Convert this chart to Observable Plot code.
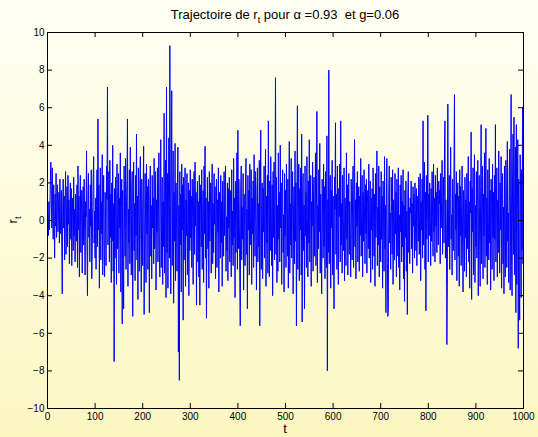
<!DOCTYPE html>
<html>
<head>
<meta charset="utf-8">
<script src="https://cdn.jsdelivr.net/npm/d3@7"></script>
<script src="https://cdn.jsdelivr.net/npm/@observablehq/plot@0.6"></script>
<style>
html, body { margin: 0; padding: 0; width: 538px; height: 437px; overflow: hidden;
  background: linear-gradient(to bottom, #fffff4 0%, #fdfbdc 50%, #fbf7c2 100%); }
#chart svg { display: block; }
</style>
</head>
<body>
<div id="chart"></div>
<script>
// r_t values, t = 1..1000, in blocks of 100
const r0 = [0.3,-0.8,1.0,-0.5,0.6,2.1,3.1,1.2,-0.4,2.8,0.5,-1.0,1.9,0.2,-2.0,1.4,-0.3,2.5,-0.9,0.8,
1.9,-0.6,0.4,1.5,-1.2,2.2,0.1,-0.7,1.6,-1.5,-3.9,0.9,2.2,-0.4,1.3,-2.1,0.7,2.6,-1.8,0.2,
1.8,-1.4,2.4,-0.2,1.1,-2.3,0.5,2.0,-1.0,1.7,-2.4,0.3,1.2,-1.6,2.3,-0.8,0.6,-2.2,1.4,0.0,
-1.1,1.9,-2.5,2.9,-0.5,1.3,-3.0,0.8,2.4,-1.7,0.4,1.6,-2.8,0.9,1.8,-1.3,2.2,-0.6,-2.9,1.0,
0.2,3.7,-1.5,-4.0,1.3,2.5,-0.9,0.6,-2.2,1.9,-0.3,2.7,-3.1,-1.6,0.7,2.3,3.4,-1.2,0.5,-2.0];
const r1 = [1.2,-2.6,0.8,2.7,-1.4,5.4,-0.5,1.9,-3.6,0.4,2.8,-2.1,1.0,-0.7,3.5,-2.9,0.6,2.4,-1.8,-3.0,
1.5,0.2,-2.4,2.9,1.1,7.1,-1.3,0.5,2.6,-2.2,3.2,-0.9,1.4,-3.3,2.0,-1.1,4.0,-2.7,0.9,-7.5,
1.7,-2.0,2.3,0.3,-3.4,3.0,-1.5,0.8,2.5,-2.8,1.2,-0.4,3.6,-3.8,0.7,2.2,-5.5,1.6,-2.5,-4.7,
2.9,0.1,-1.9,3.3,-2.6,1.0,2.1,5.4,-3.5,0.6,-1.2,2.7,-2.3,3.9,0.4,-2.9,1.8,2.6,-5.1,0.2,
3.1,-1.6,0.9,-3.2,2.4,-0.8,4.6,-2.1,1.3,-4.2,2.8,0.5,-2.7,1.7,3.4,-1.0,-3.8,2.2,0.7,-2.4];
const r2 = [1.6,3.95,-5.0,-1.2,2.5,0.6,-3.3,3.0,-0.7,1.8,-2.6,2.2,0.3,-4.9,1.4,2.9,-1.9,0.8,-3.1,2.4,
-0.4,1.2,-2.3,3.3,-1.5,0.9,2.6,-3.7,1.1,-0.6,2.8,-2.2,0.5,3.6,-1.8,-3.0,1.9,4.3,-2.5,0.7,
2.3,-3.4,1.0,-1.4,5.7,-2.8,0.4,3.2,-4.1,7.1,-1.7,2.5,-3.6,0.9,4.4,-2.0,9.3,1.2,-3.9,3.0,
6.9,-2.4,0.6,3.7,-4.4,1.5,-1.1,4.1,-3.2,2.0,0.2,-2.7,1.8,3.9,-7.0,0.8,-8.5,2.6,-1.3,1.4,
-3.8,3.0,-0.5,1.9,-5.3,2.3,-2.1,0.7,2.8,-3.5,1.1,-0.8,2.5,-2.9,0.4,2.0,-4.0,1.6,-1.6,2.7];
const r3 = [-0.9,1.3,-2.5,2.2,0.1,-3.4,1.7,2.6,-1.8,3.1,-0.3,1.5,-4.5,0.8,2.1,-2.2,1.0,-3.0,2.4,-4.5,
0.6,1.9,-1.4,2.7,-2.6,0.2,1.6,-3.3,2.9,-0.7,3.95,-2.0,1.2,-5.2,0.5,2.3,-1.5,1.0,-3.6,2.6,
-1.1,0.4,2.0,-2.8,1.4,3.0,-2.3,0.9,-1.7,2.5,-0.2,1.8,-3.1,0.7,2.2,-2.5,1.1,-0.6,2.8,-3.8,
1.5,0.3,-2.0,2.4,-1.2,1.0,-3.5,2.1,0.6,-1.9,2.6,-0.8,1.3,2.9,-2.7,0.2,-1.6,2.0,-3.2,1.7,
-0.4,2.3,-2.2,0.8,1.6,-3.0,2.7,-1.3,0.5,-2.4,3.3,-0.9,1.2,-4.1,2.1,-1.7,0.9,3.6,-2.6,4.8];
const r4 = [-1.5,2.2,0.4,-3.3,-5.6,1.8,2.9,-2.1,0.7,-1.0,2.5,-3.7,1.4,0.1,-2.4,2.0,3.3,-1.8,0.6,-4.7,
2.4,-0.5,1.6,-2.9,3.0,-1.3,0.8,2.7,-3.4,1.2,-0.7,2.1,-2.5,3.5,0.3,-1.9,2.6,-0.2,-3.7,1.5,
2.8,-2.2,0.9,-1.4,3.2,-5.6,1.1,4.8,-2.6,0.4,2.0,-3.1,1.7,-0.6,2.9,-2.0,0.5,3.8,-3.5,1.3,
-1.2,2.4,-2.8,5.3,0.2,-3.0,2.1,-1.6,3.4,0.7,-2.4,1.9,-4.0,2.6,-0.9,3.1,-2.1,1.0,7.6,-1.8,
2.3,-3.3,0.8,-2.7,3.6,-1.0,1.5,-2.2,4.0,-0.4,2.0,-3.4,1.2,2.7,-1.7,0.3,-3.8,2.5,-0.8,1.6];
const r5 = [-2.5,3.0,0.5,-1.9,2.2,-3.6,1.4,4.2,-2.8,0.9,-1.3,3.3,-2.0,1.1,2.6,-3.9,0.6,1.8,-2.3,3.7,
-1.1,2.0,-5.6,1.3,6.1,-2.6,0.4,3.0,-3.2,1.7,-0.5,2.8,-2.9,4.6,-5.4,1.2,2.5,-1.6,0.8,-4.7,
2.9,-0.8,1.5,-2.5,3.4,0.2,-3.0,2.1,-1.2,4.3,-2.2,0.7,2.4,-3.5,1.0,-0.3,3.1,-2.7,1.6,2.3,
-1.9,0.5,3.6,-2.4,1.2,5.8,-3.3,0.8,-1.5,2.7,-0.6,4.1,-2.8,1.4,-0.9,-3.9,2.2,0.4,-2.0,3.0,
-1.4,1.8,-3.1,2.6,0.3,-2.5,4.5,-8.0,1.1,-1.7,8.0,-2.3,0.9,2.4,-3.6,1.6,-0.4,3.2,-2.9,1.3];
const r6 = [-2.0,-4.7,2.3,0.6,5.2,-1.8,1.4,-2.6,2.9,-0.5,-3.4,1.7,0.2,3.0,-2.2,5.3,-1.3,0.9,-2.8,2.4,
0.1,-1.6,2.8,-3.2,1.2,0.5,-2.4,3.6,-1.0,1.9,-2.9,0.7,2.5,-1.8,1.0,-0.6,-3.0,2.2,0.3,-2.1,
1.6,2.9,-2.5,0.8,4.3,-1.4,1.1,-3.1,2.0,-0.3,2.6,-2.2,0.5,1.8,-2.7,1.3,-0.8,3.3,-1.9,0.4,
2.4,-3.0,1.5,-1.1,2.7,0.2,-2.3,1.9,-0.7,2.2,-2.8,0.9,1.6,-1.5,3.0,-2.0,0.6,2.1,-3.3,1.2,
-0.5,1.7,-2.6,2.8,0.3,-1.9,1.4,-3.5,2.5,-0.9,1.0,3.7,-2.4,0.7,-1.3,2.9,-3.0,1.8,0.4,-2.2];
const r7 = [2.6,-1.0,1.3,-3.6,2.1,0.5,-2.7,3.4,-1.5,0.8,-4.9,2.0,3.3,-2.3,-5.1,-4.7,1.7,2.9,-1.2,0.4,
-2.6,2.3,0.9,-1.8,2.7,-3.4,1.1,0.2,-2.1,2.5,-0.7,1.5,-3.0,2.2,0.6,-1.9,2.8,-2.5,0.3,-3.7,
1.9,-0.6,2.4,-2.2,1.0,-1.4,2.7,-3.1,0.8,-4.3,1.6,-0.9,2.1,-2.7,0.5,-5.0,1.3,2.6,-1.7,0.7,
-2.3,1.2,0.4,2.1,-1.5,0.9,-2.8,1.8,-0.3,1.4,-2.0,2.0,0.1,-1.6,1.7,-2.4,0.8,1.3,-1.1,2.3,
-1.8,0.6,2.5,-3.2,1.0,-0.5,2.2,-2.0,5.3,-1.3,0.7,3.1,-2.6,1.5,-4.8,2.4,-1.0,0.3,5.6,-2.2];
const r8 = [1.4,-0.8,2.0,0.5,-2.4,1.7,-1.1,2.6,0.2,-1.9,3.0,-0.6,1.2,-2.2,2.4,-0.3,1.5,-1.7,2.8,0.4,
-1.3,2.1,0.9,1.6,-2.3,2.5,-0.4,1.0,3.2,-1.8,0.6,2.3,-1.2,3.6,5.3,-2.0,1.1,-0.7,-6.6,-3.5,
6.2,-1.4,0.8,2.4,-2.6,1.2,3.9,-1.0,0.3,-2.9,2.2,0.7,-1.6,3.0,6.7,-2.1,1.4,-0.5,2.6,-3.2,
0.9,2.0,-1.9,1.3,-3.5,2.7,-0.8,1.8,-2.4,0.5,2.9,-1.2,-3.8,1.6,0.2,-2.7,2.3,-0.9,1.1,-3.0,
2.5,-1.5,0.6,3.4,-2.2,1.0,-3.6,2.1,0.4,4.7,-4.2,1.7,-0.6,2.8,-2.9,1.2,3.5,-3.3,0.8,-1.4];
const r9 = [2.6,-2.0,1.3,3.2,-4.0,0.7,2.4,-1.6,-3.5,1.8,5.1,-2.3,0.5,2.9,-3.1,1.4,-0.8,3.6,-2.5,0.9,
4.9,-1.9,1.2,-3.4,2.7,0.3,-2.1,3.3,-1.2,1.6,-3.7,2.2,0.8,-2.6,3.0,-0.9,1.5,-3.2,2.4,-1.0,
5.1,-2.2,0.6,2.8,-3.0,1.1,-1.7,3.7,0.2,-2.8,2.0,-0.5,3.4,-3.6,1.3,2.5,-2.3,0.7,-3.9,2.9,
-1.4,-3.0,3.2,1.0,-2.5,4.2,-1.1,0.4,-3.3,2.6,3.8,-3.7,1.5,6.7,-2.4,-4.0,2.1,4.6,-1.8,5.5,
-2.9,1.2,3.9,-4.9,5.1,-3.4,0.6,4.3,-6.8,2.2,-3.1,-5.3,3.5,1.0,-4.1,2.7,-1.6,6.0,-2.3,0.4];

const xTicks = [0,100,200,300,400,500,600,700,800,900,1000];
const yTicks = [-10,-8,-6,-4,-2,0,2,4,6,8,10];
const titleMain = "Trajectoire de r";
const titleSub = "t";
const titleRest = " pour \u03b1 =0.93  et g=0.06";
const xLabel = "t";
const yLabelMain = "r";
const yLabelSub = "t";

const r = [].concat(r0, r1, r2, r3, r4, r5, r6, r7, r8, r9);
const data = r.map((v, i) => ({t: i + 1, r: v}));

const W = 538, H = 437, mL = 47, mR = 15, mT = 32, mB = 29;
const innerW = W - mL - mR, innerH = H - mT - mB;
const tick = 5;
const fmt = d => String(d).replace("-", "\u2212");

const chart = Plot.plot({
  width: W, height: H,
  marginLeft: mL, marginRight: mR, marginTop: mT, marginBottom: mB,
  style: {background: "transparent", fontFamily: "'Liberation Sans', Arial, sans-serif", fontSize: "10px", color: "#000"},
  x: {domain: [0, 1000]},
  y: {domain: [-10, 10]},
  marks: [
    Plot.line(data, {x: "t", y: "r", stroke: "#0000ff", strokeWidth: 1}),
    Plot.frame({stroke: "#000", strokeWidth: 1}),
    Plot.tickX(xTicks, {x: d => d, insetTop: innerH - tick, stroke: "#000"}),
    Plot.tickX(xTicks, {x: d => d, insetBottom: innerH - tick, stroke: "#000"}),
    Plot.tickY(yTicks, {y: d => d, insetRight: innerW - tick, stroke: "#000"}),
    Plot.tickY(yTicks, {y: d => d, insetLeft: innerW - tick, stroke: "#000"}),
    Plot.axisX(xTicks, {tickSize: 0, tickPadding: 4, label: null, tickFormat: fmt}),
    Plot.axisY(yTicks, {tickSize: 0, tickPadding: 3, label: null, tickFormat: fmt})
  ]
});
document.getElementById("chart").appendChild(chart);

const svg = d3.select(chart);
const title = svg.append("text")
  .attr("x", mL + innerW / 2).attr("y", 19)
  .attr("text-anchor", "middle")
  .style("font-family", "'Liberation Sans', Arial, sans-serif")
  .style("font-size", "13px").style("white-space", "pre").attr("fill", "#000");
title.append("tspan").text(titleMain);
title.append("tspan").attr("dy", 4).style("font-size", "9px").text(titleSub);
title.append("tspan").attr("dy", -4).text(titleRest);

svg.append("text")
  .attr("x", mL + innerW / 2).attr("y", 433)
  .attr("text-anchor", "middle")
  .style("font-family", "'Liberation Sans', Arial, sans-serif")
  .style("font-size", "13px").attr("fill", "#000")
  .text(xLabel);

const yl = svg.append("text")
  .attr("transform", `translate(17,${mT + innerH / 2}) rotate(-90)`)
  .attr("text-anchor", "middle")
  .style("font-family", "'Liberation Sans', Arial, sans-serif")
  .style("font-size", "13px").attr("fill", "#000");
yl.append("tspan").text(yLabelMain);
yl.append("tspan").attr("dy", 4).style("font-size", "9px").text(yLabelSub);
</script>
</body>
</html>
